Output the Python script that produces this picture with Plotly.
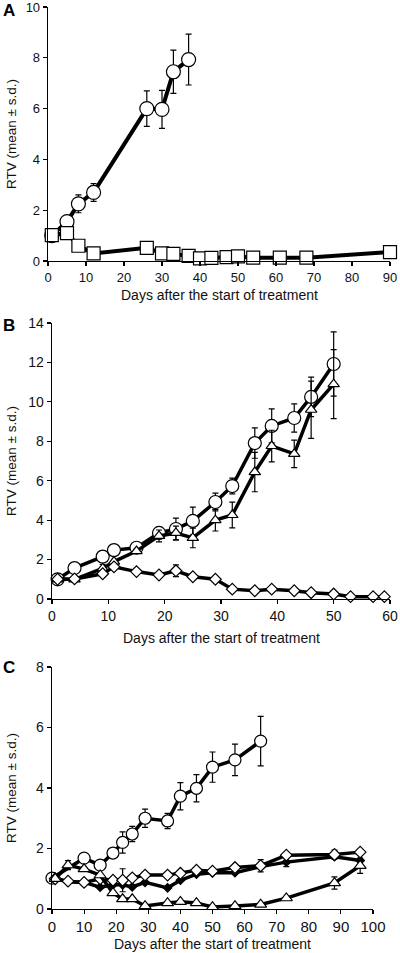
import plotly.graph_objects as go

# ---------------- Panel A ----------------
a_circ_x = [1, 5, 8, 12, 26, 30, 33, 37]
a_circ_y = [1.0, 1.55, 2.25, 2.7, 6.0, 5.97, 7.45, 7.93]
a_circ_sd = [0, 0, 0.35, 0.35, 0.7, 0.75, 0.85, 1.0]

a_sq_x = [1, 5, 8, 12, 26, 30, 33, 37, 40, 43, 47, 50, 54, 61, 68, 90]
a_sq_y = [1.02, 1.1, 0.6, 0.3, 0.52, 0.3, 0.28, 0.2, 0.1, 0.12, 0.15, 0.18, 0.13, 0.13, 0.13, 0.35]

# ---------------- Panel B ----------------
b_x = [1, 4, 9, 11, 15, 19, 22, 25, 29, 32, 36, 39, 43, 46, 50]
b_circ_y = [1.0, 1.57, 2.15, 2.48, 2.6, 3.35, 3.55, 3.96, 4.92, 5.73, 7.91, 8.78, 9.18, 10.25, 11.92]
b_circ_sd = [0, 0, 0, 0, 0.1, 0.3, 0.55, 0.7, 0.45, 0.4, 0.77, 0.86, 0.72, 1.0, 1.63]
b_tri_y = [1.0, 1.0, 1.55, 1.9, 2.43, 3.2, 3.35, 3.1, 4.0, 4.26, 6.44, 7.76, 7.36, 9.6, 10.9]
b_tri_sd = [0, 0, 0.2, 0, 0.1, 0.3, 0.35, 0.5, 0.55, 0.65, 1.0, 0.8, 0.7, 1.45, 1.75]

b_dia_x = [1, 4, 9, 11, 15, 19, 22, 25, 29, 32, 36, 39, 43, 46, 50, 53, 57, 59]
b_dia_y = [1.0, 1.02, 1.28, 1.63, 1.39, 1.22, 1.43, 1.13, 1.0, 0.5, 0.42, 0.5, 0.42, 0.32, 0.25, 0.12, 0.12, 0.12]
b_dia_sd = [0, 0, 0.15, 0, 0, 0, 0.3, 0, 0, 0, 0, 0, 0, 0, 0, 0, 0, 0]

# ---------------- Panel C ----------------
c_circ_x = [0, 10, 15, 19, 22, 25, 29, 36, 40, 45, 50, 57, 65]
c_circ_y = [1.02, 1.68, 1.45, 1.85, 2.2, 2.48, 3.0, 2.91, 3.73, 3.99, 4.69, 4.93, 5.55]
c_circ_sd = [0, 0, 0, 0.15, 0.35, 0.25, 0.3, 0.25, 0.45, 0.45, 0.5, 0.52, 0.82]

c_x = [1, 5, 10, 15, 19, 22, 25, 29, 36, 40, 45, 50, 57, 65, 73, 88, 96]
c_fdia_y = [1.0, 0.9, 0.88, 0.72, 0.8, 0.8, 0.73, 0.88, 0.7, 0.95, 1.15, 1.2, 1.2, 1.4, 1.55, 1.73, 1.6]
c_fdia_sd = [0, 0, 0, 0, 0, 0, 0, 0, 0, 0, 0, 0, 0, 0, 0.15, 0, 0]
c_odia_y = [1.0, 0.92, 0.88, 1.0, 0.95, 0.95, 1.03, 1.12, 1.12, 1.18, 1.28, 1.25, 1.37, 1.43, 1.78, 1.8, 1.88]
c_odia_sd = [0, 0, 0, 0, 0, 0.38, 0, 0, 0, 0, 0, 0, 0, 0.2, 0, 0.15, 0]
c_tri_y = [1.0, 1.45, 1.32, 1.12, 0.53, 0.33, 0.33, 0.1, 0.2, 0.24, 0.2, 0.07, 0.1, 0.15, 0.36, 0.86, 1.43]
c_tri_sd = [0, 0.15, 0, 0, 0, 0, 0, 0, 0, 0, 0, 0, 0, 0, 0, 0.2, 0.25]

W, H = 400, 953
FONT = "Liberation Sans, Arial, sans-serif"


def px_x(v):
    return v / W


def px_y(v):
    return (H - v) / H


fig = go.Figure()


def add(xs, ys, sd, symbol, size, xa, ya, fill="white", lw=3.5):
    fig.add_trace(go.Scatter(
        x=xs, y=ys, mode="lines+markers", xaxis=xa, yaxis=ya,
        line=dict(color="black", width=lw),
        marker=dict(symbol=symbol, size=size, color=fill,
                    line=dict(color="black", width=1.2)),
        error_y=dict(type="data", array=sd, visible=True, color="black",
                     thickness=1.2, width=3),
        cliponaxis=False, showlegend=False,
    ))


# Panel A
add(a_circ_x, a_circ_y, a_circ_sd, "circle", 14, "x", "y", lw=4)
add(a_sq_x, a_sq_y, [0] * len(a_sq_x), "square", 13, "x", "y", lw=4)

# Panel B
add(b_x, b_circ_y, b_circ_sd, "circle", 13, "x2", "y2")
add(b_x, b_tri_y, b_tri_sd, "triangle-up", 10, "x2", "y2")
add(b_dia_x, b_dia_y, b_dia_sd, "diamond", 9, "x2", "y2")

# Panel C
add(c_circ_x, c_circ_y, c_circ_sd, "circle", 12, "x3", "y3")
add(c_x, c_fdia_y, c_fdia_sd, "diamond", 6.5, "x3", "y3", fill="black")
add(c_x, c_odia_y, c_odia_sd, "diamond", 9, "x3", "y3")
add(c_x, c_tri_y, c_tri_sd, "triangle-up", 10.5, "x3", "y3")


def tf(size):
    return dict(family=FONT, size=size, color="#111")


def common(fs):
    return dict(showline=True, linecolor="black", linewidth=1.3,
                ticks="outside", ticklen=4, tickwidth=1.2, tickcolor="black",
                showgrid=False, zeroline=False, tickfont=tf(fs),
                automargin=False, ticklabeloverflow="allow", fixedrange=True)


def xaxis(domain, rng, anchor, fs):
    return dict(domain=domain, range=rng, anchor=anchor, dtick=10, tick0=0, **common(fs))


def yaxis(domain, rng, anchor, dtick, fs):
    return dict(domain=domain, range=rng, anchor=anchor, dtick=dtick, tick0=0, **common(fs))


fig.update_layout(
    width=W, height=H,
    margin=dict(l=0, r=0, t=0, b=0, pad=0, autoexpand=False),
    plot_bgcolor="white", paper_bgcolor="white",
    hovermode=False,
    xaxis=xaxis([px_x(48), px_x(390)], [0, 90], "y", 13),
    yaxis=yaxis([px_y(261), px_y(7)], [0, 10], "x", 2, 13),
    xaxis2=xaxis([px_x(52), px_x(390)], [0, 60], "y2", 14),
    yaxis2=yaxis([px_y(599), px_y(323)], [0, 14], "x2", 2, 14),
    xaxis3=xaxis([px_x(52), px_x(373)], [0, 100], "y3", 15),
    yaxis3=yaxis([px_y(909), px_y(667)], [0, 8], "x3", 2, 14),
)

annots = []
xtitle = "Days after the start of treatment"
ytitle = "RTV (mean ± s.d.)"
for cx, ty, cy, lab, ly in [
    (219, 295, 134, "A", 10),
    (221, 638, 461, "B", 325),
    (212, 944, 788, "C", 667),
]:
    annots.append(dict(x=px_x(cx), y=px_y(ty), xref="paper", yref="paper",
                       text=xtitle, showarrow=False, font=tf(14),
                       xanchor="center", yanchor="middle"))
    annots.append(dict(x=px_x(11), y=px_y(cy), xref="paper", yref="paper",
                       text=ytitle, showarrow=False, textangle=-90,
                       font=tf(13.5), xanchor="center", yanchor="middle"))
    annots.append(dict(x=px_x(9), y=px_y(ly), xref="paper", yref="paper",
                       text="<b>%s</b>" % lab, showarrow=False,
                       font=dict(family=FONT, size=17, color="black"),
                       xanchor="center", yanchor="middle"))
fig.update_layout(annotations=annots)

fig.write_html(
    "out.html",
    config={"displayModeBar": False, "staticPlot": True},
    post_script="document.body.style.margin='0';document.body.style.overflow='hidden';",
)
